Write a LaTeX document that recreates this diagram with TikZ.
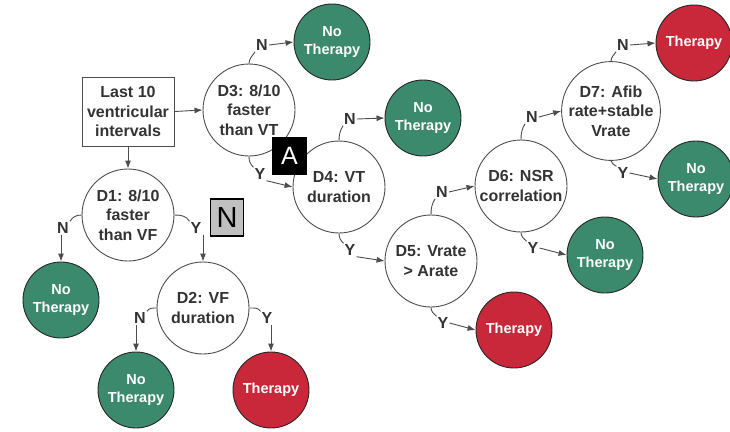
\documentclass[tikz,border=0pt]{standalone}
\usepackage{fontspec}
\setmainfont{Liberation Sans}
\usetikzlibrary{arrows.meta}
\definecolor{tgreen}{HTML}{3B8A6E}
\definecolor{tred}{HTML}{C8283A}
\definecolor{tgray}{HTML}{C0C0C0}
\definecolor{ink}{HTML}{333333}
\begin{document}
\begin{tikzpicture}[x=1pt,y=1pt,
  dec/.style={circle, draw=black!70, line width=0.9pt, minimum size=92pt, inner sep=0pt,
    align=center, font=\fontsize{16}{19.5}\selectfont\bfseries, text=ink},
  res/.style={circle, draw=black!85, line width=0.9pt, minimum size=76pt, inner sep=0pt,
    align=center, font=\fontsize{14.5}{18}\selectfont\bfseries, text=white},
  nogo/.style={res, fill=tgreen},
  dogo/.style={res, fill=tred},
  lbl/.style={inner sep=1pt, font=\fontsize{16}{16}\selectfont\bfseries, text=ink},
  ln/.style={draw=black!70, line width=0.9pt},
  arr/.style={ln, -{Latex[length=8pt,width=6pt]}}
]
\useasboundingbox (0,0) rectangle (730,-431);

% start box
\node[draw=black!70, line width=1pt, minimum width=92pt, minimum height=69pt, inner sep=0pt,
  align=center, font=\fontsize{16}{19.5}\selectfont\bfseries, text=ink] (box) at (128,-111.5)
  {Last 10\\ventricular\\intervals};

% decisions
\node[dec] (d1) at (128,-215) {D1: 8/10\\faster\\than VF};
\node[dec] (d2) at (203,-308) {D2: VF\\duration};
\node[dec] (d3) at (249,-110) {D3: 8/10\\faster\\than VT};
\node[dec] (d4) at (339,-187) {D4: VT\\duration};
\node[dec] (d5) at (431,-261) {D5: Vrate\\> Arate};
\node[dec] (d6) at (521,-186) {D6: NSR\\correlation};
\node[dec] (d7) at (611,-111) {D7: Afib\\rate+stable\\Vrate};

% outcomes
\node[nogo] (nt1) at (61,-300) {No\\Therapy};
\node[nogo] (nt2) at (136,-390) {No\\Therapy};
\node[dogo] (t2) at (271,-390) {Therapy};
\node[nogo] (nt3) at (332,-42) {No\\Therapy};
\node[nogo] (nt4) at (423,-118) {No\\Therapy};
\node[dogo] (t5) at (514,-330) {Therapy};
\node[nogo] (nt6) at (605,-255) {No\\Therapy};
\node[dogo] (t7) at (694,-43) {Therapy};
\node[nogo] (nt7) at (696,-179) {No\\Therapy};

% branch labels
\node[lbl] (n1) at (63,-228) {N};
\node[lbl] (y1) at (196,-228) {Y};
\node[lbl] (n2) at (140,-318) {N};
\node[lbl] (y2) at (267,-318) {Y};
\node[lbl] (n3) at (262,-45) {N};
\node[lbl] (y3) at (260,-174) {Y};
\node[lbl] (n4) at (350,-119) {N};
\node[lbl] (y4) at (350,-250) {Y};
\node[lbl] (n5) at (442,-192) {N};
\node[lbl] (y5) at (443,-323) {Y};
\node[lbl] (n6) at (532,-117) {N};
\node[lbl] (y6) at (533,-248) {Y};
\node[lbl] (n7) at (623,-45) {N};
\node[lbl] (y7) at (623,-173) {Y};

% connectors
\draw[arr] (box.east) -- (d3.west);
\draw[arr] (box.south) -- (d1.north);

\draw[ln] (d1.west) to[out=180,in=60] (n1.north east);
\draw[arr] (n1.south -| nt1.north) -- (nt1.north);
\draw[ln] (d1.east) to[out=0,in=120] (y1.north west);
\draw[arr] (y1.south -| d2.north) -- (d2.north);

\draw[ln] (d2.west) to[out=180,in=60] (n2.north east);
\draw[arr] (n2.south -| nt2.north) -- (nt2.north);
\draw[ln] (d2.east) to[out=0,in=120] (y2.north west);
\draw[arr] (y2.south -| t2.north) -- (t2.north);

\draw[ln] (d3.north) to[out=90,in=-120] (n3.south west);
\draw[arr] (n3.east) -- (nt3.west);
\draw[ln] (d3.south) to[out=-90,in=135] (y3.north west);
\draw[arr] (y3.south east) -- (d4.west);

\draw[ln] (d4.north) to[out=90,in=-120] (n4.south west);
\draw[arr] (n4.east) -- (nt4.west);
\draw[ln] (d4.south) to[out=-90,in=135] (y4.north west);
\draw[arr] (y4.south east) -- (d5.west);

\draw[ln] (d5.north) to[out=90,in=-120] (n5.south west);
\draw[arr] (n5.east) -- (d6.west);
\draw[ln] (d5.south) to[out=-90,in=135] (y5.north west);
\draw[arr] (y5.east) -- (t5.west);

\draw[ln] (d6.north) to[out=90,in=-120] (n6.south west);
\draw[arr] (n6.east) -- (d7.west);
\draw[ln] (d6.south) to[out=-90,in=135] (y6.north west);
\draw[arr] (y6.east) -- (nt6.west);

\draw[ln] (d7.north) to[out=90,in=-120] (n7.south west);
\draw[arr] (n7.east) -- (t7.west);
\draw[ln] (d7.south) to[out=-90,in=135] (y7.north west);
\draw[arr] (y7.east) -- (nt7.west);

% panel markers
\node[fill=black, minimum width=35pt, minimum height=38pt, inner sep=0pt, text=white,
  font=\fontsize{25}{25}\selectfont] (mA) at (289.5,-156) {A};
\node[fill=tgray, draw=black, line width=1.5pt, minimum width=33pt, minimum height=37pt,
  inner sep=0pt, font=\fontsize{29}{29}\selectfont] (mN) at (227,-217.5) {N};
\end{tikzpicture}
\end{document}
